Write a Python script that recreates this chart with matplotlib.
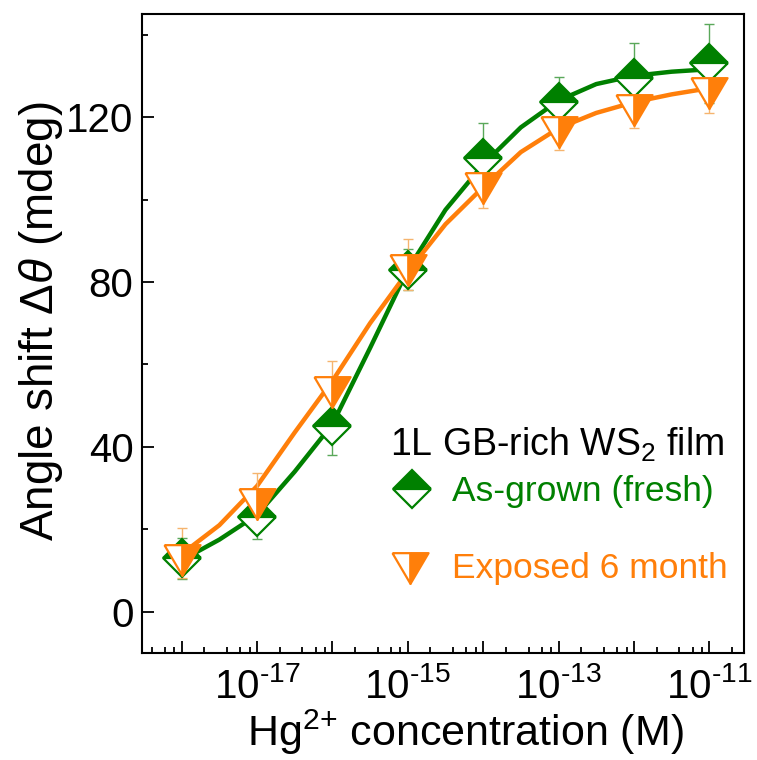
import matplotlib

matplotlib.use("Agg")

import matplotlib.pyplot as plt
import numpy as np
from matplotlib.ticker import FixedLocator, LogLocator, MultipleLocator, NullFormatter

plt.rcParams.update(
    {
        "font.family": "Liberation Sans",
        "mathtext.fontset": "custom",
        "mathtext.rm": "Liberation Sans",
        "mathtext.it": "Liberation Sans:italic",
        "mathtext.default": "regular",
        "font.size": 29,
    }
)

# measured points (log10 of Hg2+ concentration)
log_conc = [-18, -17, -16, -15, -14, -13, -12, -11]
fresh = [13.0, 23.0, 45.0, 83.0, 110.0, 123.7, 129.4, 133.0]
fresh_err = [5.0, 5.3, 7.0, 5.0, 8.5, 6.0, 8.5, 9.5]
aged = [12.6, 26.1, 53.2, 83.0, 102.7, 116.3, 121.6, 125.8]
aged_err_lo = [4.5, 5.0, 6.0, 5.0, 4.8, 4.4, 4.3, 4.7]
aged_err_hi = [7.6, 7.6, 7.6, 7.5, 5.5, 9.9, 8.2, 7.6]

# fitted curves
fit_log_conc = [-18, -17.5, -17, -16.5, -16, -15.5, -15, -14.5, -14, -13.5, -13, -12.5, -12, -11.5, -11]
fresh_fit = [12.5, 17.5, 23.5, 34.0, 45.5, 64.0, 83.0, 97.5, 108.5, 117.5, 124.0, 128.0, 130.0, 131.0, 131.6]
aged_fit = [14.0, 21.0, 30.5, 43.5, 56.0, 70.0, 82.5, 94.0, 103.0, 111.5, 117.3, 121.0, 123.6, 125.5, 127.0]

x_ticks = [-18, -17, -16, -15, -14, -13, -12, -11]
x_ticklabels = ["", r"10$^{\text{-17}}$", "", r"10$^{\text{-15}}$", "", r"10$^{\text{-13}}$", "", r"10$^{\text{-11}}$"]

GREEN = "#008000"
ORANGE = "#FF7F0A"

fig = plt.figure(figsize=(7.57, 7.60), dpi=100)
ax = fig.add_axes([0.1872, 0.1408, 0.7956, 0.8408])

x = np.power(10.0, log_conc)
xf = np.power(10.0, fit_log_conc)

ax.plot(xf, fresh_fit, color=GREEN, lw=3.2, zorder=2, solid_joinstyle="round")
ax.plot(xf, aged_fit, color=ORANGE, lw=3.2, zorder=2, solid_joinstyle="round")

ax.errorbar(x, fresh, yerr=fresh_err, fmt="none", ecolor="#5aa85a", elinewidth=1.0,
            capsize=3.8, capthick=1.0, zorder=3)
ax.errorbar(x, aged, yerr=[aged_err_lo, aged_err_hi], fmt="none", ecolor="#f5b46e",
            elinewidth=1.0, capsize=3.8, capthick=1.0, zorder=3)

diamond = dict(ls="none", marker="D", ms=19, fillstyle="top", markerfacecolor=GREEN,
               markerfacecoloralt="white", markeredgecolor=GREEN, markeredgewidth=1.6)
ax.plot(x, fresh, zorder=4, **diamond)

# half-filled downward triangle from two halves
h = 0.85
left_half = [(-1, h), (0, h), (0, -h), (-1, h)]
right_half = [(0, h), (1, h), (0, -h), (0, h)]
tri_left = dict(ls="none", marker=left_half, ms=26, markerfacecolor="white",
                markeredgecolor=ORANGE, markeredgewidth=1.6)
tri_right = dict(ls="none", marker=right_half, ms=26, markerfacecolor=ORANGE,
                 markeredgecolor=ORANGE, markeredgewidth=1.6)
ax.plot(x, aged, zorder=5, **tri_left)
ax.plot(x, aged, zorder=5, **tri_right)

ax.set_xscale("log")
ax.set_xlim(10 ** -18.53, 10 ** -10.54)
ax.set_ylim(-10, 145)

ax.xaxis.set_major_locator(FixedLocator(np.power(10.0, x_ticks)))
ax.set_xticklabels(x_ticklabels)
ax.xaxis.set_minor_locator(LogLocator(base=10, subs=[2, 4, 6, 8], numticks=30))
ax.xaxis.set_minor_formatter(NullFormatter())
ax.yaxis.set_major_locator(MultipleLocator(40))
ax.yaxis.set_minor_locator(MultipleLocator(20))

ax.tick_params(which="both", direction="in", top=False, right=False, width=1.3, labelsize=29)
ax.tick_params(which="major", length=8.5)
ax.tick_params(which="minor", length=4.5)
ax.tick_params(axis="x", pad=10)
ax.tick_params(axis="y", pad=6)
for s in ax.spines.values():
    s.set_linewidth(1.5)

ax.set_xlabel(r"Hg$^{\text{2+}}$ concentration (M)", fontsize=31)
ax.xaxis.set_label_coords(0.538, -0.085)
ax.set_ylabel(r"Angle shift $\Delta\mathit{\theta}$ (mdeg)", fontsize=33)
ax.yaxis.set_label_coords(-0.128, 0.52)

# legend drawn by hand
ax.text(0.412, 0.3255, r"1L GB-rich WS$_2$ film", transform=ax.transAxes,
        fontsize=27, ha="left", va="center")
ax.plot([0.449], [0.256], transform=ax.transAxes, clip_on=False, **diamond)
ax.text(0.515, 0.252, "As-grown (fresh)", transform=ax.transAxes,
        fontsize=25.5, ha="left", va="center", color=GREEN)
ax.plot([0.4455], [0.133], transform=ax.transAxes, clip_on=False, **tri_left)
ax.plot([0.4455], [0.133], transform=ax.transAxes, clip_on=False, **tri_right)
ax.text(0.515, 0.133, "Exposed 6 month", transform=ax.transAxes,
        fontsize=25.5, ha="left", va="center", color=ORANGE)

fig.savefig("out.png", dpi=100)
